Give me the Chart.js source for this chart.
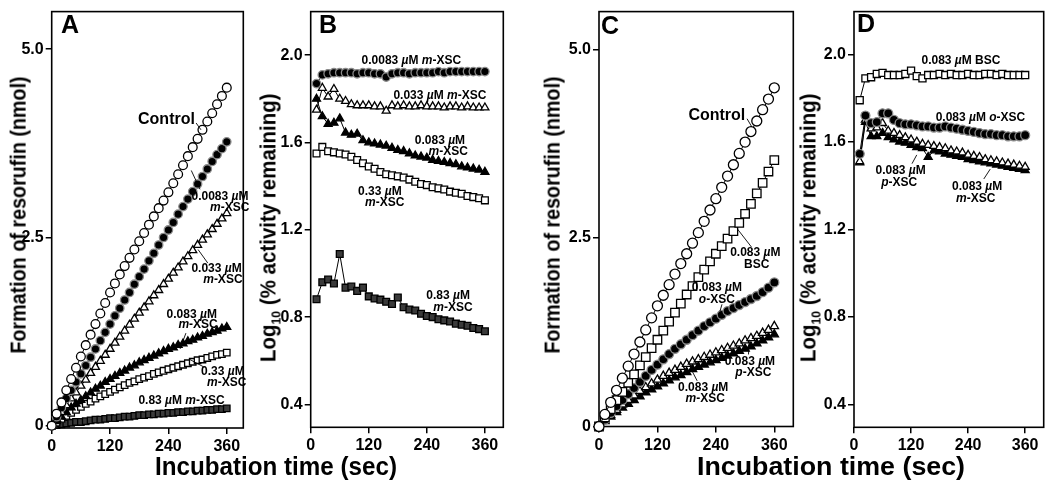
<!DOCTYPE html>
<html>
<head>
<meta charset="utf-8">
<script src="https://cdn.jsdelivr.net/npm/chart.js@4.4.1/dist/chart.umd.min.js"></script>
<style>
body { margin:0; background:#fff; width:1050px; height:490px; overflow:hidden; position:relative; font-family:"Liberation Sans", Arial, sans-serif; }
canvas { position:absolute; left:0; top:0; }
.ytitle, .xtitle { position:absolute; font-weight:bold; white-space:nowrap; line-height:1; }
.ytitle { font-size:22px; }
.xtitle { font-size:25px; }
.letter { position:absolute; font-weight:bold; font-size:25px; transform:translate(-50%,-50%); }
sub { font-size:60%; }
</style>
</head>
<body>
<canvas id="panelA" width="1050" height="490"></canvas>
<canvas id="panelB" width="1050" height="490"></canvas>
<canvas id="panelC" width="1050" height="490"></canvas>
<canvas id="panelD" width="1050" height="490"></canvas>

<div class="ytitle" data-cx="18" data-cy="215" data-len="277" data-rot="1">Formation of resorufin (nmol)</div>
<div class="ytitle" data-cx="270" data-cy="228" data-len="269" data-rot="1">Log<sub>10</sub> (% activity remaining)</div>
<div class="ytitle" data-cx="552" data-cy="215" data-len="277" data-rot="1">Formation of resorufin (nmol)</div>
<div class="ytitle" data-cx="810" data-cy="228" data-len="269" data-rot="1">Log<sub>10</sub> (% activity remaining)</div>
<div class="xtitle" data-cx="276" data-cy="466" data-len="242">Incubation time (sec)</div>
<div class="xtitle" data-cx="831" data-cy="466" data-len="268">Incubation time (sec)</div>
<div class="letter" style="left:70px;top:24px">A</div>
<div class="letter" style="left:328px;top:24px">B</div>
<div class="letter" style="left:610px;top:25px">C</div>
<div class="letter" style="left:866px;top:23px">D</div>

<script>
// time points (sec)
const tA = [0,10,20,30,40,50,60,70,80,90,100,110,120,130,140,150,160,170,180,190,200,210,220,230,240,250,260,270,280,290,300,310,320,330,340,350,360];
const tB = [12,24,36,48,60,72,84,96,108,120,132,144,156,168,180,192,204,216,228,240,252,264,276,288,300,312,324,336,348,360];
const tC = [0,12,24,36,48,60,72,84,96,108,120,132,144,156,168,180,192,204,216,228,240,252,264,276,288,300,312,324,336,348,360];
const tD = tB;

// axis ticks
const timeTicks = [0, 120, 240, 360];
const nmolTicks = [0, 2.5, 5.0];
const logTicks = [0.4, 0.8, 1.2, 1.6, 2.0];

// Panel A - resorufin formation (nmol), m-XSC
const aControl = [0,0.16,0.31,0.47,0.62,0.77,0.92,1.07,1.21,1.35,1.49,1.63,1.77,1.89,2.01,2.12,2.23,2.34,2.45,2.56,2.67,2.78,2.89,2.99,3.10,3.22,3.34,3.46,3.58,3.70,3.81,3.93,4.04,4.15,4.27,4.38,4.49];
const aM0083 = [0,0.12,0.24,0.36,0.47,0.58,0.69,0.80,0.91,1.02,1.13,1.24,1.35,1.46,1.56,1.67,1.77,1.88,1.98,2.08,2.19,2.29,2.40,2.50,2.60,2.70,2.81,2.91,3.01,3.11,3.21,3.31,3.41,3.51,3.60,3.68,3.77];
const aM033 = [0,0.09,0.18,0.27,0.36,0.44,0.53,0.61,0.70,0.78,0.86,0.94,1.02,1.10,1.18,1.26,1.34,1.42,1.50,1.57,1.65,1.73,1.80,1.88,1.95,2.03,2.10,2.18,2.25,2.33,2.40,2.47,2.54,2.61,2.68,2.75,2.82];
const aM083 = [0,0.06,0.12,0.18,0.24,0.29,0.34,0.39,0.44,0.49,0.53,0.58,0.62,0.66,0.70,0.73,0.77,0.80,0.84,0.87,0.90,0.93,0.96,0.99,1.02,1.04,1.07,1.09,1.12,1.14,1.17,1.19,1.22,1.24,1.26,1.29,1.31];
const aM33 = [0,0.04,0.09,0.13,0.17,0.21,0.25,0.29,0.32,0.36,0.39,0.42,0.45,0.48,0.51,0.54,0.57,0.59,0.62,0.64,0.66,0.69,0.71,0.73,0.75,0.77,0.79,0.81,0.83,0.85,0.87,0.88,0.90,0.92,0.94,0.95,0.97];
const aM83 = [0,0.01,0.02,0.03,0.04,0.05,0.05,0.06,0.07,0.08,0.08,0.09,0.10,0.10,0.11,0.12,0.12,0.13,0.14,0.14,0.15,0.15,0.16,0.16,0.17,0.17,0.18,0.18,0.19,0.19,0.20,0.20,0.21,0.21,0.22,0.22,0.23];

// Panel B - log10 % activity remaining, m-XSC
const bM0083 = [1.87,1.91,1.915,1.92,1.92,1.92,1.92,1.915,1.92,1.92,1.915,1.915,1.90,1.915,1.92,1.92,1.915,1.92,1.92,1.92,1.92,1.925,1.92,1.925,1.925,1.925,1.925,1.925,1.925,1.925];
const bM033 = [1.75,1.85,1.81,1.845,1.80,1.79,1.775,1.77,1.77,1.77,1.765,1.765,1.745,1.77,1.765,1.77,1.765,1.765,1.77,1.765,1.765,1.765,1.76,1.765,1.765,1.76,1.765,1.76,1.76,1.76];
const bM083 = [1.80,1.72,1.685,1.69,1.71,1.645,1.635,1.64,1.61,1.60,1.595,1.59,1.585,1.575,1.565,1.56,1.55,1.54,1.535,1.53,1.52,1.515,1.51,1.505,1.50,1.49,1.485,1.48,1.475,1.465];
const bM33 = [1.55,1.58,1.56,1.555,1.55,1.545,1.535,1.52,1.505,1.49,1.48,1.465,1.455,1.45,1.445,1.44,1.43,1.42,1.41,1.405,1.395,1.39,1.385,1.375,1.37,1.365,1.355,1.35,1.345,1.335];
const bM83 = [0.882,0.96,0.972,0.954,1.089,0.935,0.94,0.92,0.935,0.895,0.885,0.88,0.87,0.86,0.89,0.845,0.835,0.83,0.815,0.805,0.80,0.79,0.785,0.78,0.77,0.765,0.76,0.75,0.745,0.735];

// Panel C - resorufin formation (nmol), 0.083 uM of each compound
const cControl = [0,0.16,0.32,0.48,0.64,0.80,0.96,1.12,1.28,1.44,1.60,1.74,1.88,2.02,2.16,2.29,2.43,2.57,2.72,2.87,3.02,3.17,3.32,3.47,3.62,3.77,3.91,4.05,4.20,4.34,4.49];
const cBSC = [0,0.12,0.23,0.35,0.46,0.58,0.69,0.81,0.92,1.04,1.15,1.27,1.39,1.51,1.63,1.75,1.86,1.98,2.08,2.19,2.29,2.39,2.49,2.59,2.70,2.82,2.95,3.09,3.23,3.38,3.53];
const cOXSC = [0,0.09,0.18,0.27,0.35,0.43,0.51,0.59,0.67,0.75,0.82,0.89,0.96,1.03,1.09,1.15,1.21,1.27,1.33,1.38,1.43,1.48,1.53,1.57,1.61,1.65,1.69,1.73,1.78,1.84,1.91];
const cPXSC = [0,0.08,0.15,0.22,0.29,0.35,0.41,0.47,0.52,0.57,0.62,0.67,0.71,0.75,0.79,0.83,0.86,0.89,0.92,0.95,0.98,1.01,1.04,1.07,1.10,1.14,1.17,1.20,1.24,1.28,1.33];
const cMXSC = [0,0.07,0.13,0.19,0.25,0.30,0.35,0.40,0.45,0.49,0.53,0.57,0.61,0.65,0.68,0.72,0.76,0.79,0.82,0.85,0.88,0.91,0.94,0.97,1.00,1.03,1.06,1.10,1.14,1.18,1.22];

// Panel D - log10 % activity remaining, 0.083 uM of each compound
const dBSC = [1.79,1.89,1.895,1.91,1.915,1.905,1.905,1.905,1.91,1.925,1.90,1.89,1.905,1.905,1.91,1.905,1.91,1.905,1.905,1.91,1.905,1.905,1.91,1.91,1.905,1.91,1.905,1.905,1.905,1.905];
const dOXSC = [1.545,1.72,1.685,1.69,1.73,1.73,1.70,1.685,1.68,1.68,1.675,1.67,1.67,1.665,1.665,1.67,1.665,1.66,1.655,1.65,1.645,1.64,1.635,1.635,1.63,1.63,1.625,1.625,1.625,1.63];
const dPXSC = [1.51,1.70,1.66,1.665,1.685,1.65,1.64,1.63,1.62,1.61,1.60,1.59,1.585,1.58,1.575,1.57,1.56,1.555,1.55,1.54,1.535,1.53,1.52,1.515,1.51,1.505,1.50,1.495,1.49,1.485];
const dMXSC = [1.505,1.69,1.625,1.625,1.64,1.62,1.61,1.60,1.595,1.585,1.575,1.57,1.53,1.56,1.555,1.545,1.54,1.535,1.53,1.52,1.515,1.51,1.505,1.50,1.495,1.49,1.485,1.48,1.475,1.47];

// marker styles
const openCircle   = { shape:'circle',   fill:'#fff', stroke:'#000' };
const fillCircle   = { shape:'circle',   fill:'#000', stroke:'#8a8a8a' };
const openTri      = { shape:'triangle', fill:'#fff', stroke:'#000' };
const fillTri      = { shape:'triangle', fill:'#000', stroke:'#000' };
const openSquare   = { shape:'rect',     fill:'#fff', stroke:'#000' };
const darkSquare   = { shape:'rect',     fill:'#3a3a3a', stroke:'#000' };

const FONT = '"Liberation Sans", Arial, sans-serif';
const AXW = 45, AXH = 30;

// titles: fit each to the length measured on the figure
document.querySelectorAll('[data-len]').forEach(el => {
    const w = el.offsetWidth, h = el.offsetHeight;
    const k = +el.dataset.len / w;
    el.style.left = (+el.dataset.cx - w / 2) + 'px';
    el.style.top = (+el.dataset.cy - h / 2) + 'px';
    el.style.transform = (el.dataset.rot ? 'rotate(-90deg) ' : '') + 'scaleX(' + k + ')';
});

function series(xs, ys, st, r) {
    return {
        data: xs.map((x, i) => ({ x: x, y: ys[i] })),
        pointStyle: st.shape, pointRadius: r,
        pointBackgroundColor: st.fill, pointBorderColor: st.stroke, pointBorderWidth: 1.3,
        borderColor: '#000', borderWidth: 1, tension: 0, clip: false
    };
}

// rich text: parts between * are italic
function drawRich(ctx, text, cx, cy, size) {
    const parts = text.split('*');
    const fonts = parts.map((p, i) => (i % 2 ? 'italic ' : '') + 'bold ' + size + 'px ' + FONT);
    let w = 0;
    parts.forEach((p, i) => { ctx.font = fonts[i]; w += ctx.measureText(p).width; });
    let xx = cx - w / 2;
    ctx.textBaseline = 'middle';
    ctx.textAlign = 'left';
    ctx.fillStyle = '#000';
    parts.forEach((p, i) => { ctx.font = fonts[i]; ctx.fillText(p, xx, cy); xx += ctx.measureText(p).width; });
}

function notesPlugin(labels, leaders) {
    return {
        id: 'notes',
        beforeDatasetsDraw(chart) {
            const a = chart.chartArea, ctx = chart.ctx;
            ctx.save();
            ctx.strokeStyle = '#000';
            ctx.lineWidth = 1.6;
            ctx.strokeRect(a.left, a.top, a.right - a.left, a.bottom - a.top);
            ctx.restore();
        },
        afterDatasetsDraw(chart) {
            const ctx = chart.ctx, x = chart.scales.x, y = chart.scales.y;
            ctx.save();
            ctx.strokeStyle = '#000';
            ctx.lineWidth = 0.9;
            leaders.forEach(l => {
                ctx.beginPath();
                ctx.moveTo(x.getPixelForValue(l[0]), y.getPixelForValue(l[1]));
                ctx.lineTo(x.getPixelForValue(l[2]), y.getPixelForValue(l[3]));
                ctx.stroke();
            });
            labels.forEach(lb => drawRich(ctx, lb.text, x.getPixelForValue(lb.x), y.getPixelForValue(lb.y), lb.size || 12));
            ctx.restore();
        }
    };
}

function makePanel(id, box, xMax, yMin, yMax, yTicks, yFmt, datasets, labels, leaders) {
    const tickFont = { family: FONT, size: 16, weight: 'bold' };
    const grid = { drawOnChartArea: false, drawTicks: true, tickLength: 6, color: '#000', lineWidth: 1.5 };
    return new Chart(document.getElementById(id), {
        type: 'line',
        data: { datasets: datasets },
        options: {
            responsive: false, animation: false,
            layout: { padding: { left: box[0] - AXW, top: box[1], right: 1050 - box[2], bottom: 490 - box[3] - AXH } },
            scales: {
                x: {
                    type: 'linear', min: 0, max: xMax,
                    afterFit: s => { s.height = AXH; },
                    afterBuildTicks: s => { s.ticks = timeTicks.map(v => ({ value: v })); },
                    ticks: { autoSkip: false, maxRotation: 0, color: '#000', font: tickFont, padding: 3, callback: v => String(v) },
                    grid: grid, border: { display: false }
                },
                y: {
                    type: 'linear', min: yMin, max: yMax,
                    afterFit: s => { s.width = AXW; },
                    afterBuildTicks: s => { s.ticks = yTicks.map(v => ({ value: v })); },
                    ticks: { autoSkip: false, color: '#000', font: tickFont, padding: 2, callback: yFmt },
                    grid: grid, border: { display: false }
                }
            },
            plugins: { legend: { display: false }, tooltip: { enabled: false } }
        },
        plugins: [notesPlugin(labels, leaders)]
    });
}

const nmolFmt = v => v === 0 ? '0' : v.toFixed(1);
const logFmt = v => v.toFixed(1);

// A
makePanel('panelA', [51.7, 3.3, 243.3, 428], 394, -0.03, 5.5, nmolTicks, nmolFmt, [
    series(tA, aControl, openCircle, 4.4),
    series(tA, aM0083, fillCircle, 4.2),
    series(tA, aM033, openTri, 4.6),
    series(tA, aM083, fillTri, 4.6),
    series(tA, aM33, openSquare, 4.6),
    series(tA, aM83, darkSquare, 4.6)
], [
    { text: 'Control', x: 236, y: 4.06, size: 16 },
    { text: '0.0083 *µ*M', x: 346, y: 3.04 },
    { text: '*m*-XSC', x: 366, y: 2.90 },
    { text: '0.033 *µ*M', x: 339, y: 2.09 },
    { text: '*m*-XSC', x: 352, y: 1.935 },
    { text: '0.083 *µ*M', x: 288, y: 1.48 },
    { text: '*m*-XSC', x: 301, y: 1.336 },
    { text: '0.33 *µ*M', x: 352, y: 0.716 },
    { text: '*m*-XSC', x: 360, y: 0.573 },
    { text: '0.83 *µ*M *m*-XSC', x: 267, y: 0.334 }
], [
    [297, 4.02, 307, 3.93],
    [287, 3.39, 305, 3.14],
    [301, 2.34, 321, 2.16],
    [264, 1.02, 276, 1.23],
    [284, 0.88, 313, 0.78]
]);

// B
makePanel('panelB', [310.7, 3.3, 503.3, 427.3], 398, 0.295, 2.2, logTicks, logFmt, [
    series(tB, bM0083, fillCircle, 4.2),
    series(tB, bM033, openTri, 4.6),
    series(tB, bM083, fillTri, 4.6),
    series(tB, bM33, openSquare, 4.8),
    series(tB, bM83, darkSquare, 4.8)
], [
    { text: '0.0083 *µ*M *m*-XSC', x: 208, y: 1.975 },
    { text: '0.033 *µ*M *m*-XSC', x: 267, y: 1.8125 },
    { text: '0.083 *µ*M', x: 267, y: 1.61 },
    { text: '*m*-XSC', x: 284, y: 1.557 },
    { text: '0.33 *µ*M', x: 143, y: 1.377 },
    { text: '*m*-XSC', x: 153, y: 1.325 },
    { text: '0.83 *µ*M', x: 284, y: 0.898 },
    { text: '*m*-XSC', x: 294, y: 0.845 }
], []);

// C
makePanel('panelC', [599, 3.3, 793.3, 426.5], 399, 0, 5.5, nmolTicks, nmolFmt, [
    series(tC, cControl, openCircle, 5),
    series(tC, cBSC, openSquare, 6),
    series(tC, cOXSC, fillCircle, 4.5),
    series(tC, cPXSC, openTri, 4.8),
    series(tC, cMXSC, fillTri, 4.8)
], [
    { text: 'Control', x: 242, y: 4.115, size: 16 },
    { text: '0.083 *µ*M', x: 321, y: 2.30 },
    { text: 'BSC', x: 324, y: 2.15 },
    { text: '0.083 *µ*M', x: 242, y: 1.839 },
    { text: '*o*-XSC', x: 242, y: 1.687 },
    { text: '0.083 *µ*M', x: 310, y: 0.864 },
    { text: '*p*-XSC', x: 317, y: 0.712 },
    { text: '0.083 *µ*M', x: 214, y: 0.517 },
    { text: '*m*-XSC', x: 218, y: 0.366 }
], [
    [304, 4.08, 314, 3.97],
    [313, 2.38, 284, 2.62],
    [252.6, 1.62, 248.5, 1.53],
    [307, 0.955, 308.6, 1.15],
    [201.6, 0.605, 190.8, 0.74]
]);

// D
makePanel('panelD', [854, 5, 1048, 427.3], 399, 0.295, 2.195, logTicks, logFmt, [
    series(tD, dBSC, openSquare, 5),
    series(tD, dOXSC, fillCircle, 4.5),
    series(tD, dPXSC, openTri, 4.6),
    series(tD, dMXSC, fillTri, 4.6)
], [
    { text: '0.083 *µ*M BSC', x: 225, y: 1.97 },
    { text: '0.083 *µ*M *o*-XSC', x: 266, y: 1.708 },
    { text: '0.083 *µ*M', x: 98, y: 1.467 },
    { text: '*p*-XSC', x: 95, y: 1.415 },
    { text: '0.083 *µ*M', x: 259, y: 1.393 },
    { text: '*m*-XSC', x: 256, y: 1.34 }
], [
    [122, 1.50, 132, 1.54],
    [273, 1.43, 286.5, 1.475]
]);
</script>
</body>
</html>
